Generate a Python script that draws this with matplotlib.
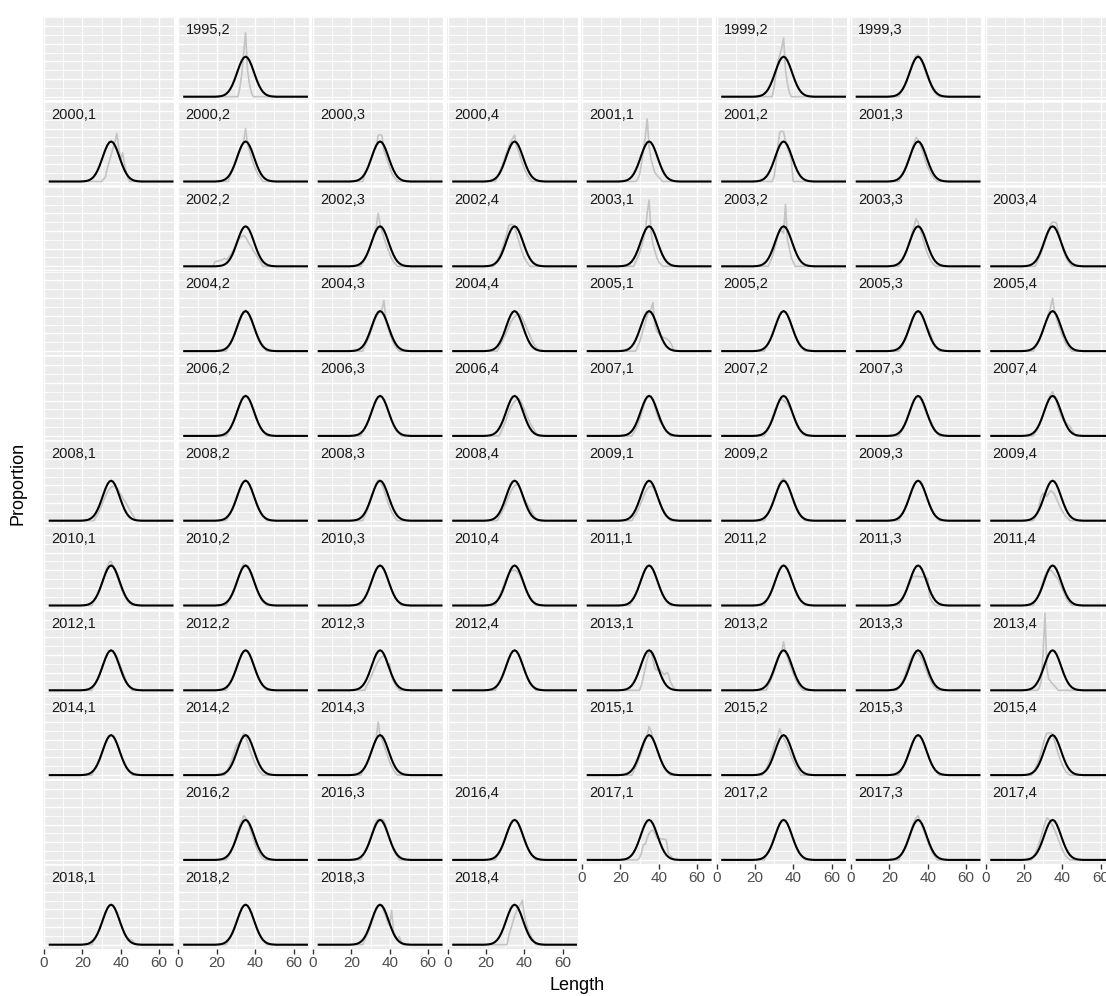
import matplotlib
matplotlib.use('Agg')
import matplotlib.pyplot as plt
import numpy as np

plt.rcParams['font.family'] = ['Liberation Sans', 'DejaVu Sans']

# fitted curve (same in every panel)
fit_len = list(range(3, 68))
fit_prop = [0] * 17 + [.0003, .0006, .0012, .0022, .004, .0069, .0112, .0174, .0256, .0358,
                       .0476, .06, .0719, .0818, .0884, .0907, .0884, .0818, .0719, .06,
                       .0476, .0358, .0256, .0174, .0112, .0069, .004, .0022, .0012, .0006,
                       .0003] + [0] * 17

# facet layout, 8 per row (None = empty panel)
layout = [
    [None, '1995,2', None, None, None, '1999,2', '1999,3', None],
    ['2000,1', '2000,2', '2000,3', '2000,4', '2001,1', '2001,2', '2001,3', None],
    [None, '2002,2', '2002,3', '2002,4', '2003,1', '2003,2', '2003,3', '2003,4'],
    [None, '2004,2', '2004,3', '2004,4', '2005,1', '2005,2', '2005,3', '2005,4'],
    [None, '2006,2', '2006,3', '2006,4', '2007,1', '2007,2', '2007,3', '2007,4'],
    ['2008,1', '2008,2', '2008,3', '2008,4', '2009,1', '2009,2', '2009,3', '2009,4'],
    ['2010,1', '2010,2', '2010,3', '2010,4', '2011,1', '2011,2', '2011,3', '2011,4'],
    ['2012,1', '2012,2', '2012,3', '2012,4', '2013,1', '2013,2', '2013,3', '2013,4'],
    ['2014,1', '2014,2', '2014,3', None, '2015,1', '2015,2', '2015,3', '2015,4'],
    [None, '2016,2', '2016,3', '2016,4', '2017,1', '2017,2', '2017,3', '2017,4'],
    ['2018,1', '2018,2', '2018,3', '2018,4'],
]

# observed proportions: (first length, values)
obs = {
    '1995,2': (31, [0, .02, .05, .10, .145, .06, .03, .01, 0]),
    '1999,2': (29, [0, .02, .05, .08, .095, .11, .133, .06, .03, .01, 0]),
    '1999,3': (26, [.01, .016, .025, .035, .047, .06, .073, .085, .094, .095, .088, .078, .068, .055, .043, .032, .022, .014, .008, .004]),
    '2000,1': (31, [.005, .01, .03, .045, .06, .075, .09, .109, .075, .05, .065, .04, .02, .005, 0]),
    '2000,2': (27, [.015, .025, .035, .048, .06, .072, .082, .09, .12, .085, .07, .055, .042, .03, .02, .012, .007]),
    '2000,3': (27, [.015, .025, .035, .048, .06, .072, .08, .105, .106, .104, .07, .058, .045, .032, .02, .012, .007]),
    '2000,4': (26, [.01, .02, .03, .042, .055, .068, .08, .09, .098, .105, .08, .07, .055, .042, .03, .02, .012, .006]),
    '2001,1': (29, [.005, .015, .04, .07, .1, .142, .08, .05, .035, .02, .015, .01, .005, 0]),
    '2001,2': (30, [.01, .04, .08, .112, .114, .112, .09, .075, .065, .05, 0]),
    '2001,3': (26, [.01, .017, .026, .036, .048, .06, .075, .088, .1, .095, .085, .072, .058, .045, .033, .023, .015, .009, .005]),
    '2002,2': (18, [0, .01, .012, .012, .014, .015, .018, .015, .02, .025, .032, .04, .05, .058, .064, .068, .07, .066, .058, .05, .045, .035, .03, .022, .015, .008, 0]),
    '2002,3': (26, [.008, .015, .025, .035, .048, .06, .075, .09, .12, .095, .08, .065, .052, .04, .028, .018, .01, .005]),
    '2002,4': (25, [.008, .014, .022, .033, .046, .06, .075, .092, .095, .094, .09, .075, .06, .045, .032, .02, .012, .006]),
    '2003,1': (28, [.01, .02, .03, .045, .06, .08, .12, .15, .08, .05, .035, .02, .01, .005, 0]),
    '2003,2': (28, [.01, .02, .035, .05, .07, .08, .08, .075, .14, .06, .04, .02, .01, 0]),
    '2003,3': (26, [.008, .015, .025, .035, .048, .062, .078, .092, .108, .1, .085, .07, .055, .04, .028, .018, .01, .005]),
    '2003,4': (27, [.01, .02, .03, .042, .055, .068, .082, .096, .1, .1, .098, .08, .06, .045, .03, .02, .012, .006]),
    '2004,2': (26, [.01, .016, .025, .036, .048, .06, .072, .082, .088, .093, .087, .08, .07, .058, .046, .035, .024, .015, .009, .005]),
    '2004,3': (27, [.012, .02, .03, .042, .055, .068, .078, .085, .09, .095, .115, .07, .055, .04, .028, .018, .01, .005]),
    '2004,4': (27, [.01, .017, .025, .035, .045, .055, .065, .072, .078, .082, .085, .082, .075, .065, .055, .045, .035, .025, .016, .01, .005]),
    '2005,1': (29, [.01, .02, .035, .05, .065, .08, .09, .095, .11, .06, .045, .04, .035, .032, .03, .028, .025, .02, .012, 0]),
    '2005,2': (26, [.01, .017, .026, .036, .048, .06, .072, .082, .088, .091, .088, .082, .072, .06, .048, .036, .026, .017, .01, .006]),
    '2005,3': (26, [.008, .015, .024, .034, .046, .058, .07, .08, .087, .09, .087, .08, .07, .06, .052, .045, .032, .02, .012, .006]),
    '2005,4': (26, [.008, .015, .024, .035, .048, .06, .072, .085, .1, .12, .09, .075, .06, .048, .036, .025, .016, .01, .005]),
    '2006,2': (26, [.01, .016, .025, .035, .047, .059, .071, .082, .089, .092, .089, .083, .073, .061, .049, .037, .027, .018, .011, .006]),
    '2006,3': (26, [.011, .017, .026, .036, .048, .06, .072, .082, .088, .091, .088, .081, .071, .059, .047, .035, .025, .016, .01, .006]),
    '2006,4': (28, [.01, .02, .03, .042, .055, .065, .072, .078, .082, .085, .08, .072, .062, .05, .04, .03, .022, .015, .008, 0]),
    '2007,1': (27, [.008, .015, .025, .036, .05, .065, .078, .088, .092, .09, .08, .065, .05, .038, .03, .026, .02, .012, .006]),
    '2007,2': (26, [.01, .018, .028, .04, .052, .064, .074, .08, .082, .08, .077, .072, .065, .058, .048, .038, .028, .018, .01, .005]),
    '2007,3': (26, [.008, .015, .024, .035, .047, .06, .072, .082, .088, .09, .086, .078, .066, .055, .045, .038, .03, .02, .012, .006]),
    '2007,4': (26, [.008, .015, .024, .035, .047, .06, .073, .085, .094, .1, .09, .078, .062, .05, .04, .034, .03, .026, .022, .015, .008, 0]),
    '2008,1': (27, [.008, .015, .024, .034, .045, .055, .064, .071, .076, .078, .078, .074, .068, .06, .052, .045, .038, .03, .022, .015, .008, 0]),
    '2008,2': (26, [.011, .017, .026, .036, .048, .06, .072, .082, .088, .092, .088, .082, .072, .06, .048, .036, .026, .017, .011, .006]),
    '2008,3': (27, [.012, .02, .032, .046, .06, .074, .085, .092, .09, .082, .07, .056, .042, .03, .02, .012, .006]),
    '2008,4': (27, [.01, .016, .024, .034, .045, .056, .066, .074, .079, .082, .08, .072, .06, .05, .042, .035, .028, .02, .012, .006, 0]),
    '2009,1': (27, [.008, .014, .022, .032, .043, .054, .064, .072, .077, .078, .075, .068, .058, .048, .038, .028, .02, .012, .006]),
    '2009,2': (26, [.01, .017, .026, .036, .048, .06, .073, .085, .093, .096, .09, .082, .07, .058, .046, .034, .024, .015, .009, .005]),
    '2009,3': (26, [.011, .017, .026, .036, .048, .06, .072, .082, .088, .091, .088, .082, .072, .06, .048, .036, .026, .017, .011, .006]),
    '2009,4': (26, [.008, .018, .035, .055, .062, .06, .055, .062, .068, .065, .06, .05, .04, .03, .022, .015, .009, .005]),
    '2010,1': (26, [.01, .017, .026, .036, .048, .062, .076, .088, .098, .1, .09, .08, .068, .055, .042, .031, .022, .014, .008, .004]),
    '2010,2': (26, [.01, .017, .026, .036, .048, .06, .074, .086, .095, .09, .086, .08, .07, .058, .046, .034, .024, .015, .009, .005]),
    '2010,3': (26, [.011, .017, .026, .036, .048, .06, .072, .082, .088, .091, .088, .082, .072, .06, .048, .036, .026, .017, .011, .006]),
    '2010,4': (26, [.012, .02, .03, .042, .054, .064, .072, .077, .08, .08, .078, .073, .066, .057, .047, .037, .028, .019, .012, .007]),
    '2011,1': (26, [.01, .017, .026, .036, .049, .061, .073, .083, .089, .091, .087, .081, .071, .059, .047, .035, .025, .017, .01, .006]),
    '2011,2': (26, [.011, .017, .026, .036, .048, .06, .072, .082, .089, .092, .088, .082, .072, .06, .048, .036, .026, .017, .011, .006]),
    '2011,3': (26, [.008, .015, .024, .034, .045, .056, .064, .066, .066, .066, .065, .065, .065, .064, .062, .02, .01, .005, 0]),
    '2011,4': (26, [.01, .018, .028, .04, .055, .068, .075, .078, .08, .076, .07, .065, .058, .048, .038, .028, .018, .01, .005]),
    '2012,1': (26, [.01, .017, .026, .036, .048, .06, .072, .082, .088, .09, .088, .083, .075, .065, .054, .042, .03, .02, .012, .006]),
    '2012,2': (26, [.011, .017, .026, .036, .048, .06, .072, .082, .088, .091, .088, .082, .072, .06, .048, .036, .026, .017, .011, .006]),
    '2012,3': (28, [.01, .018, .028, .038, .048, .058, .066, .072, .076, .078, .07, .055, .06, .03, .02, .012, .006, 0]),
    '2012,4': (26, [.011, .017, .026, .036, .048, .06, .072, .082, .088, .09, .088, .082, .072, .06, .048, .036, .026, .017, .011, .006]),
    '2013,1': (30, [0, .012, .03, .05, .07, .085, .088, .07, .05, .045, .05, .045, .04, .035, .04, .038, .02, .012, .005, 0]),
    '2013,2': (27, [.012, .02, .03, .042, .055, .068, .08, .088, .11, .085, .075, .062, .05, .038, .027, .018, .01, .005]),
    '2013,3': (25, [.008, .014, .022, .032, .045, .058, .07, .078, .083, .085, .083, .078, .07, .06, .048, .036, .026, .017, .01, .005]),
    '2013,4': (27, [0, .005, .02, .08, .175, .05, .025, .02, .015, .01, .005, 0]),
    '2014,1': (26, [.011, .017, .026, .036, .048, .06, .072, .082, .088, .091, .088, .082, .072, .06, .048, .036, .026, .017, .011, .006]),
    '2014,2': (25, [.008, .015, .025, .038, .052, .065, .072, .075, .085, .095, .088, .075, .06, .048, .036, .026, .017, .01, .005]),
    '2014,3': (26, [.01, .017, .026, .036, .048, .06, .072, .085, .12, .09, .08, .068, .055, .042, .03, .02, .012, .006]),
    '2015,1': (27, [.01, .018, .028, .04, .052, .065, .078, .09, .11, .1, .085, .072, .06, .048, .036, .025, .016, .009, .005]),
    '2015,2': (25, [.008, .015, .025, .037, .05, .064, .078, .09, .105, .09, .084, .076, .066, .055, .043, .032, .022, .014, .008]),
    '2015,3': (26, [.011, .017, .026, .036, .048, .06, .072, .082, .088, .09, .088, .082, .072, .06, .048, .036, .026, .017, .011, .006]),
    '2015,4': (25, [.008, .015, .025, .037, .052, .068, .085, .095, .096, .095, .094, .078, .062, .048, .035, .024, .015, .008, .004]),
    '2016,2': (26, [.008, .015, .024, .035, .05, .068, .08, .088, .1, .096, .088, .076, .062, .048, .035, .024, .015, .008, .004]),
    '2016,3': (26, [.01, .017, .026, .037, .05, .064, .077, .088, .092, .092, .092, .09, .078, .06, .046, .034, .023, .014, .008]),
    '2016,4': (26, [.011, .017, .026, .036, .048, .06, .072, .082, .088, .091, .088, .082, .072, .06, .048, .036, .026, .017, .011, .006]),
    '2017,1': (29, [0, .005, .015, .035, .035, .05, .06, .065, .068, .06, .05, .048, .048, .047, .047, .045, .015, .01, .005, 0]),
    '2017,2': (26, [.011, .017, .026, .036, .048, .06, .072, .082, .088, .091, .088, .082, .072, .06, .048, .036, .026, .017, .011, .006]),
    '2017,3': (26, [.01, .017, .026, .036, .048, .062, .076, .088, .096, .1, .088, .078, .066, .054, .042, .03, .02, .012, .006]),
    '2017,4': (25, [.008, .015, .025, .038, .052, .068, .082, .095, .092, .085, .078, .068, .058, .046, .035, .024, .015, .008, .004]),
    '2018,1': (26, [.01, .017, .026, .036, .048, .06, .072, .082, .088, .091, .088, .082, .072, .06, .048, .036, .026, .018, .014, .012, .01, .006, 0]),
    '2018,2': (26, [.011, .017, .026, .036, .048, .06, .072, .082, .088, .091, .088, .082, .072, .06, .048, .036, .026, .017, .011, .006]),
    '2018,3': (27, [.012, .02, .03, .042, .055, .068, .08, .088, .09, .085, .075, .065, .05, .045, .078, .03, .02, .012, .018, .008, 0]),
    '2018,4': (31, [0, .02, .035, .05, .065, .075, .085, .09, .1, .07, .05, .035, .025, .015, .01, 0]),
}

W, H = 1106, 996
fig = plt.figure(figsize=(W / 100, H / 100), dpi=100)

px_unit = 1.917
left0 = 44 - 0.5 * px_unit
col_step = 134.5
pan_w = 68.5 * px_unit
top0 = 17
row_step = 84.8
pan_h = 83.5

nrows = len(layout)
for r, row in enumerate(layout):
    for c, lab in enumerate(row):
        x0 = left0 + c * col_step
        y0 = top0 + r * row_step
        ax = fig.add_axes([x0 / W, 1 - (y0 + pan_h) / H, pan_w / W, pan_h / H])
        ax.set_facecolor('#EBEBEB')
        ax.set_xlim(-0.5, 68)
        ax.set_ylim(-0.0086, 0.1806)
        ax.set_xticks([0, 20, 40, 60])
        ax.set_xticks([10, 30, 50], minor=True)
        ax.set_yticks([0, .04, .08, .12, .16])
        ax.set_yticks([.02, .06, .10, .14, .18], minor=True)
        ax.grid(which='major', color='white', lw=1.0)
        ax.grid(which='minor', color='white', lw=0.6)
        ax.set_axisbelow(True)
        for s in ax.spines.values():
            s.set_visible(False)
        ax.tick_params(axis='y', which='both', length=0, labelleft=False)
        ax.tick_params(axis='x', which='minor', length=0)
        # bottom panel of each column carries the x axis
        below = r + 1 < nrows and c < len(layout[r + 1])
        if below:
            ax.tick_params(axis='x', which='major', length=0, labelbottom=False)
        else:
            ax.tick_params(axis='x', which='major', length=3.5, width=1.0,
                           color='#333333', labelcolor='#4D4D4D', labelsize=11, pad=2)
        if lab is None:
            continue
        start, vals = obs[lab]
        gray = np.zeros(len(fit_len))
        i0 = fit_len.index(start)
        gray[i0:i0 + len(vals)] = vals
        ax.plot(fit_len, gray, color='#C4C4C4', lw=1.2, zorder=2)
        ax.plot(fit_len, fit_prop, color='black', lw=1.5, zorder=3)
        ax.text(8 / pan_w, 1 - 17 / pan_h, lab, transform=ax.transAxes,
                fontsize=10.5, va='baseline', ha='left', color='#1A1A1A')

fig.text(577 / W, 1 - 985 / H, 'Length', ha='center', va='center', fontsize=13)
fig.text(18 / W, 1 - 483 / H, 'Proportion', ha='center', va='center',
         rotation=90, fontsize=13)

fig.savefig('out.png', dpi=100)
